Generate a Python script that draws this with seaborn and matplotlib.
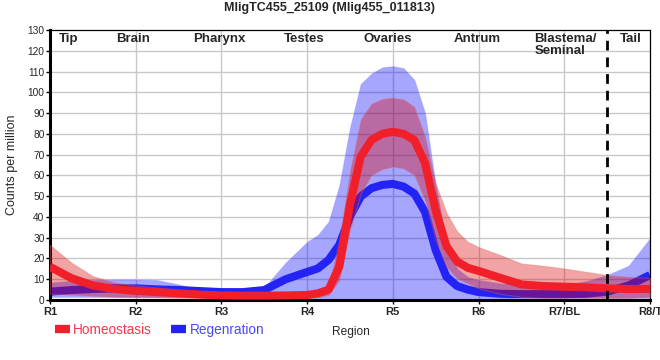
import numpy as np
import pandas as pd
import matplotlib
matplotlib.use("Agg")
import matplotlib.pyplot as plt
import seaborn as sns
from matplotlib.lines import Line2D

# values
positions = [1, 1.25, 1.5, 1.75, 2, 2.25, 2.5, 2.75, 3, 3.25, 3.5, 3.75, 4,
             4.125, 4.25, 4.375, 4.5, 4.625, 4.75, 4.875, 5, 5.125, 5.25, 5.375,
             5.5, 5.625, 5.75, 5.875, 6, 6.25, 6.5, 6.75, 7, 7.25, 7.5, 7.75, 8]

hom_mean = [16, 10.5, 7, 5.3, 4.4, 3.8, 3.2, 2.6, 2.2, 2.1, 2.1, 2.2, 2.4,
            3.2, 5, 16, 46, 69, 77, 80, 81, 80, 77, 66,
            43, 26, 18.5, 15.5, 14, 10.7, 7.5, 6.7, 6.4, 6.1, 5.6, 5.3, 5.3]
hom_upper = [26.5, 18, 11.5, 8.5, 7, 6, 5, 4.2, 3.5, 3.3, 3.3, 4, 4,
             4.5, 6.5, 29, 62, 87, 94.5, 96.8, 97.4, 96.6, 93, 78.6,
             56, 42, 33, 28, 25.5, 21.7, 17.6, 16.5, 15.2, 13.6, 12, 11.2, 10.7]
hom_lower = [3, 2.5, 2, 1.5, 1.3, 1.2, 1, 1, 1, 1, 1, 1, 1,
             1.3, 2.4, 9.6, 33.7, 51.3, 60.2, 63, 64.2, 63.4, 60.2, 48.1,
             28.9, 16, 10.4, 8, 5.6, 3, 1.5, 1, 1, 1, 1, 1, 1.5]

reg_mean = [4, 4.8, 5.3, 5.6, 5.6, 5.1, 4.8, 4.3, 3.8, 3.8, 4.8, 10, 13.5,
            15.2, 19.3, 26.5, 40.2, 49.8, 53.8, 55.4, 55.9, 54.6, 51.3, 42.4,
            24, 11.2, 6.7, 5, 3.8, 3, 2.8, 2.8, 2.8, 3, 4, 7, 12]
reg_upper = [8.3, 9.3, 9.6, 9.9, 9.9, 9.6, 7.5, 5.2, 5, 5, 6, 18, 28,
             31.3, 37.7, 55, 83, 104, 109, 112, 112.6, 111.6, 106, 90,
             55, 28, 15, 11, 9.6, 8, 7.5, 7.5, 7.5, 9, 12, 16.5, 29.7]
reg_lower = [1.5, 1.5, 1.5, 1.5, 1.5, 1.5, 1.5, 1.5, 1.5, 1.5, 1.5, 0.5, 0,
             0, 0, 0, 0, 0, 0, 0, 0, 0, 0, 0,
             0, 0, 0, 0, 0, 0.5, 1, 1, 1, 1, 1, 1, 1]

tick_labels = ["R1", "R2", "R3", "R4", "R5", "R6", "R7/BL", "R8/T"]
region_names = ["Tip", "Brain", "Pharynx", "Testes", "Ovaries", "Antrum", "Blastema/\nSeminal", "Tail"]
name_x = [1.22, 1.97, 2.98, 3.96, 4.94, 5.98, 6.65, 7.78]
name_ha = ["center"] * 6 + ["left", "center"]

RED = "#f01f2a"
BLUE = "#2323f5"

sns.set_theme(style="white")
plt.rcParams["font.family"] = ["Liberation Sans", "DejaVu Sans"]

df = pd.DataFrame({"pos": positions, "hom": hom_mean, "reg": reg_mean})

fig = plt.figure(figsize=(6.6, 3.6), dpi=100)
ax = fig.add_axes([50 / 660, 60 / 360, 600 / 660, 270 / 360])

# grid
for v in range(10, 130, 10):
    ax.axhline(v, color="#c8c8c8", linewidth=1, zorder=0)
for v in range(2, 8):
    ax.axvline(v, color="#c8c8c8", linewidth=1, zorder=0)

line_kw = dict(linewidth=5.8, solid_joinstyle="round", solid_capstyle="butt")

ax.fill_between(positions, reg_lower, reg_upper, color="#0000ff", alpha=0.35,
                linewidth=0.8, edgecolor="#8080ff", zorder=1)
sns.lineplot(data=df, x="pos", y="reg", color=BLUE, ax=ax, zorder=2, **line_kw)
ax.fill_between(positions, hom_lower, hom_upper, color="#dd0000", alpha=0.36,
                linewidth=0.8, edgecolor="#e07070", zorder=3)
sns.lineplot(data=df, x="pos", y="hom", color=RED, ax=ax, zorder=4, **line_kw)

ax.axvline(7.5, color="black", linewidth=2, linestyle=(0, (3.5, 2.5)), zorder=5)

ax.set_xlim(1, 8)
ax.set_ylim(0, 130)
ax.set_yticks(range(0, 131, 10))
ax.set_xticks(range(1, 9))
ax.set_xticklabels(tick_labels, fontweight="bold", fontsize=8)
ax.tick_params(axis="y", labelsize=7.3, length=3, width=1, color="black", pad=1)
ax.tick_params(axis="x", length=3, width=1, color="black", pad=2)
ax.tick_params(left=True, bottom=True)

ax.set_xlabel("Region", fontsize=8.6)
ax.xaxis.set_label_coords(0.502, -0.095)
ax.set_ylabel("Counts per million", fontsize=9)
ax.yaxis.set_label_coords(-0.053, 0.5)

for side in ["top", "right"]:
    ax.spines[side].set_linewidth(0.9)
    ax.spines[side].set_color("black")
for side in ["left", "bottom"]:
    ax.spines[side].set_linewidth(2.2)
    ax.spines[side].set_color("black")

for name, x, ha in zip(region_names, name_x, name_ha):
    if "\n" in name:
        ax.text(x, 0.99, name, transform=ax.get_xaxis_transform(), ha=ha, va="top",
                fontsize=9.5, fontweight="bold", linespacing=1.0)
    else:
        ax.text(x, 0.967, name, transform=ax.get_xaxis_transform(), ha=ha, va="center",
                fontsize=9.5, fontweight="bold")

fig.suptitle("MligTC455_25109 (Mlig455_011813)", fontsize=9, fontweight="bold",
             x=0.5, y=0.995, va="top")

handles = [Line2D([], [], color=RED, linewidth=6, solid_capstyle="butt"),
           Line2D([], [], color=BLUE, linewidth=6, solid_capstyle="butt")]
fig.legend(handles, ["Homeostasis", "Regenration"], loc="center left",
           bbox_to_anchor=(0.073, 0.083), ncol=2, frameon=False, fontsize=9.8,
           handlelength=1.1, handletextpad=0.25, columnspacing=1.4,
           labelcolor=["#f5364a", "#4a4af5"], borderpad=0)

fig.savefig("out.png", dpi=100)
